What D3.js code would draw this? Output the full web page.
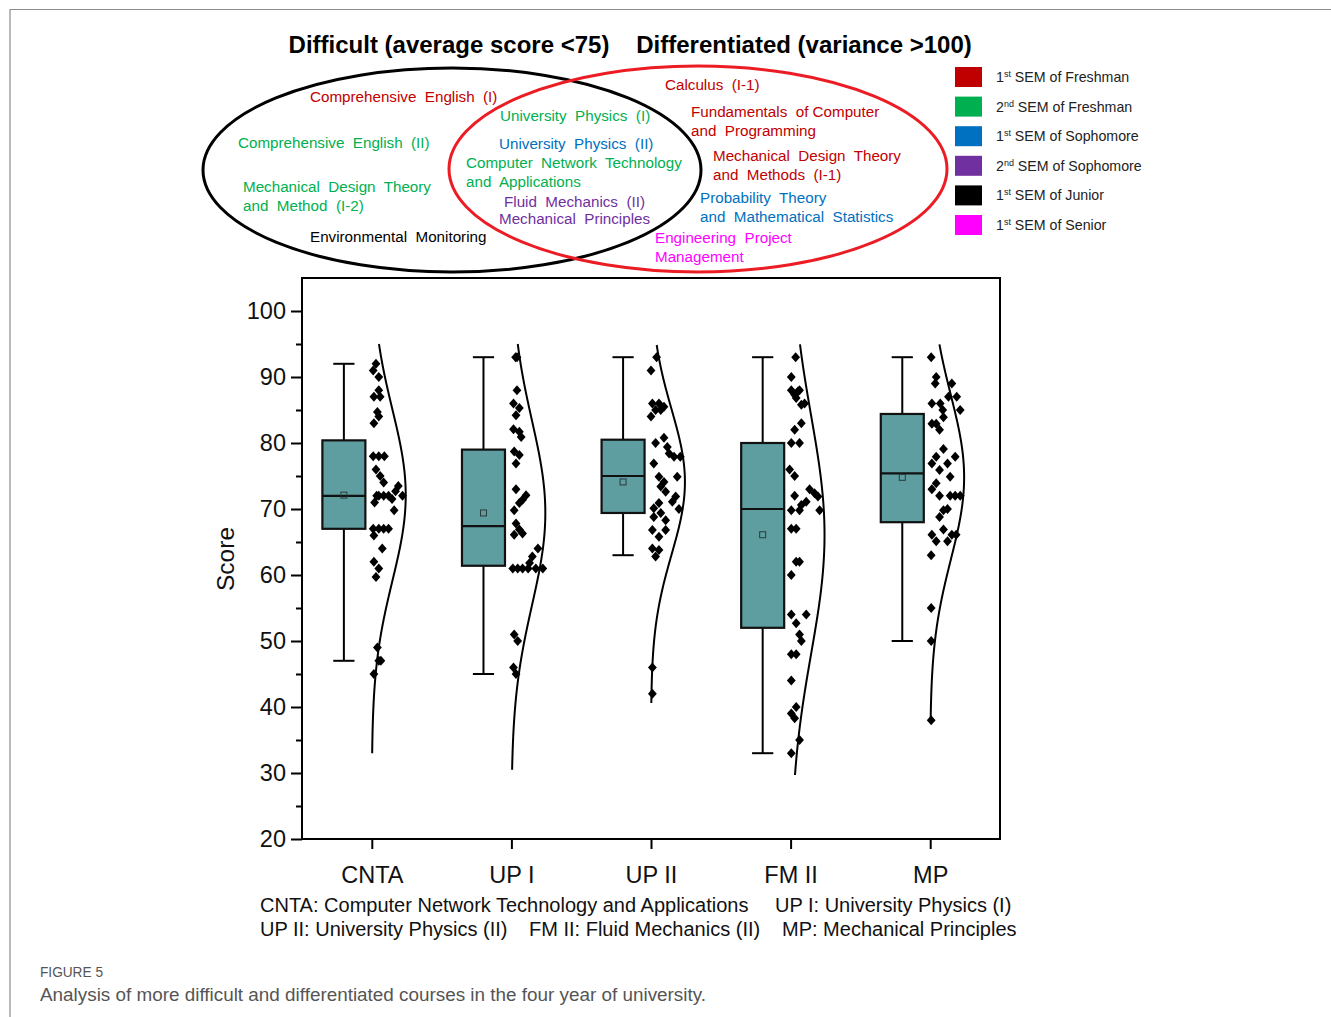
<!DOCTYPE html>
<html>
<head>
<meta charset="utf-8">
<script src="https://cdn.jsdelivr.net/npm/d3@7"></script>
<style>
  body { margin: 0; background: #fff; }
  svg text { font-family: "Liberation Sans", Arial, sans-serif; }
  .pre { white-space: pre; }
</style>
</head>
<body>
<svg id="chart" width="1331" height="1017"></svg>
<script>
// ---- Course statistics -------------------------------------------------
const courses      = ["CNTA", "UP I", "UP II", "FM II", "MP"];
const whiskerLow   = [47, 45, 63, 33, 50];
const quartile1    = [67, 61.4, 69.4, 52, 68];
const medians      = [72, 67.4, 75, 70, 75.4];
const quartile3    = [80.4, 79, 80.5, 80, 84.4];
const whiskerHigh  = [92, 93, 93, 93, 93];
const means        = [72.1, 69.4, 74.1, 66.1, 74.8];
// normal curve drawn beside each box: spread and drawn score range
const curveSD      = [13, 14, 11, 18, 12.5];
const curveLow     = [33, 30.5, 40.6, 29.7, 37.7];
const curveHigh    = [95, 95, 95, 95, 95];

// individual scores: [score, horizontal jitter in category units]
const cntaScores = [[92,0.03],[91,0.01],[90,0.05],[88,0.05],[87,0.015],[87,0.06],[84.7,0.04],[84,0.05],[83,0.015],
  [78,0.01],[78,0.05],[78,0.09],[76,0.03],[75,0.06],[74,0.085],[73.5,0.19],[72.7,0.17],[72,0.22],[72,0.05],[72,0.035],
  [72,0.085],[72,0.12],[71.5,0.145],[71,0.02],[69.8,0.16],[67,0.01],[67,0.05],[67,0.085],[67,0.12],[66,0.015],
  [64,0.075],[62,0.015],[61,0.05],[59.7,0.03],[49,0.04],[47,0.065],[47,0.05],[45,0.015]];
const up1Scores = [[93,0.03],[93,0.04],[88,0.04],[86,0.015],[85.3,0.057],[84.2,0.033],[82.1,0.015],[81.7,0.057],[80.9,0.07],
  [78.7,0.02],[78.2,0.057],[76.9,0.033],[73,0.033],[72.1,0.105],[71.4,0.08],[70.9,0.057],[69.8,0.02],[67.8,0.033],
  [66.9,0.057],[66.1,0.02],[66.3,0.08],[64,0.19],[62.8,0.15],[61.8,0.13],[61,0.01],[61,0.045],[61,0.08],[61,0.12],
  [61,0.175],[61,0.225],[51,0.02],[50,0.045],[46,0.015],[45,0.033]];
const up2Scores = [[93,0.04],[91,0.0],[86,0.01],[86,0.057],[85.5,0.093],[85,0.033],[84,0.0],[85,0.07],[80.8,0.093],
  [80,0.033],[79.4,0.117],[78.4,0.13],[77.9,0.165],[77.9,0.21],[76.9,0.02],[74.9,0.057],[74.9,0.188],[74.1,0.093],
  [73.4,0.07],[72.6,0.105],[71.9,0.177],[71.1,0.153],[70,0.2],[70.9,0.057],[70.1,0.02],[69.4,0.07],[68.8,0.02],
  [68.3,0.105],[66.8,0.01],[66.8,0.105],[65.8,0.057],[64,0.01],[63.8,0.057],[62.8,0.033],[46,0.01],[42,0.01]];
const fm2Scores = [[93,0.036],[90,0.005],[88,0.005],[87.8,0.052],[87.3,0.029],[88,0.064],[86.8,0.04],[86,0.1],[85.8,0.077],
  [83,0.077],[82,0.029],[80,0.005],[80,0.064],[76,-0.007],[75,0.029],[73,0.136],[72.4,0.172],[71.9,0.196],[72,0.029],
  [71.1,0.112],[70.6,0.077],[69.8,0.005],[69.8,0.064],[69.8,0.208],[67,0.005],[67,0.04],[62,0.04],[62,0.064],[60,0.005],
  [54,0.005],[54,0.112],[52.7,0.04],[51,0.064],[50,0.077],[48,0.005],[48,0.04],[44,0.005],[40,0.04],[39,0.005],
  [38.3,0.029],[35,0.064],[33,0.005]];
const mpScores = [[93,0.007],[90,0.043],[89,0.036],[89,0.155],[87,0.131],[87,0.19],[86,0.012],[86,0.072],[85,0.09],
  [85,0.215],[83.9,0.095],[82.9,0.012],[82.9,0.043],[82,0.067],[79.1,0.095],[77.9,0.043],[77.9,0.179],[76.9,0.012],
  [76.9,0.124],[75.9,0.067],[74.9,0.143],[73.9,0.043],[73,0.012],[72,0.067],[72,0.143],[72,0.179],[72,0.215],[70,0.124],
  [69.8,0.095],[68.8,0.067],[66.9,0.095],[66.1,0.012],[65.1,0.043],[65.1,0.124],[66.1,0.155],[66.1,0.186],[63,0.007],
  [55,0.007],[50,0.007],[38,0.007]];
const scoreSets = [cntaScores, up1Scores, up2Scores, fm2Scores, mpScores];

const yTicks = [20, 30, 40, 50, 60, 70, 80, 90, 100];
const yMinorTicks = [25, 35, 45, 55, 65, 75, 85, 95];

// ---- Semester legend ---------------------------------------------------
const semesterNum    = ["1", "2", "1", "2", "1", "1"];
const semesterSup    = ["st", "nd", "st", "nd", "st", "st"];
const semesterRest   = [" SEM of Freshman", " SEM of Freshman", " SEM of Sophomore", " SEM of Sophomore", " SEM of Junior", " SEM of Senior"];
const semesterColors = ["#c00000", "#00b050", "#0070c0", "#7030a0", "#000000", "#ff00ff"];

// ---- Venn diagram course names (semester index -> colour) --------------
const vennLabels = [
  {t: "Comprehensive  English  (I)", s: 0},
  {t: "University  Physics  (I)", s: 1},
  {t: "Comprehensive  English  (II)", s: 1},
  {t: "University  Physics  (II)", s: 2},
  {t: "Computer  Network  Technology", s: 1},
  {t: "and  Applications", s: 1},
  {t: "Mechanical  Design  Theory", s: 1},
  {t: "and  Method  (I-2)", s: 1},
  {t: "Fluid  Mechanics  (II)", s: 3},
  {t: "Mechanical  Principles", s: 3},
  {t: "Environmental  Monitoring", s: 4},
  {t: "Engineering  Project", s: 5},
  {t: "Management", s: 5},
  {t: "Calculus  (I-1)", s: 0},
  {t: "Fundamentals  of Computer", s: 0},
  {t: "and  Programming", s: 0},
  {t: "Mechanical  Design  Theory", s: 0},
  {t: "and  Methods  (I-1)", s: 0},
  {t: "Probability  Theory", s: 2},
  {t: "and  Mathematical  Statistics", s: 2}
];
// where each course name sits inside the diagram
const vennLayout = [
  [310, 97], [500, 116], [238, 143], [499, 144], [466, 163], [466, 182], [243, 187], [243, 206],
  [504, 202], [499, 219], [310, 237], [655, 238], [655, 257], [665, 85], [691, 112], [691, 131],
  [713, 156], [713, 175], [700, 198], [700, 217]
];

const svg = d3.select("#chart");

// page frame of the figure panel
svg.append("path").attr("d", "M10,1017 V9.5 H1331").attr("fill", "none")
  .attr("stroke", "#8c8c8c").attr("stroke-width", 1.2);

// ---- Titles --------------------------------------------------------------
svg.append("text").attr("x", 449).attr("y", 53).attr("text-anchor", "middle")
  .attr("font-size", 24).attr("font-weight", "bold").text("Difficult (average score <75)");
svg.append("text").attr("x", 804).attr("y", 53).attr("text-anchor", "middle")
  .attr("font-size", 24).attr("font-weight", "bold").text("Differentiated (variance >100)");

// ---- Venn ellipses -------------------------------------------------------
svg.append("ellipse").attr("cx", 452).attr("cy", 170).attr("rx", 249).attr("ry", 102)
  .attr("fill", "none").attr("stroke", "#000").attr("stroke-width", 3);
svg.append("ellipse").attr("cx", 698).attr("cy", 169).attr("rx", 249).attr("ry", 103)
  .attr("fill", "none").attr("stroke", "#ec1c24").attr("stroke-width", 3);

svg.append("g").selectAll("text").data(vennLabels).join("text")
  .attr("class", "pre")
  .attr("x", (d, i) => vennLayout[i][0])
  .attr("y", (d, i) => vennLayout[i][1])
  .attr("dy", "0.35em")
  .attr("font-size", 15.2)
  .attr("fill", d => semesterColors[d.s])
  .text(d => d.t);

// ---- Semester legend ---------------------------------------------------
const legendY = d3.scalePoint().domain(d3.range(6)).range([77, 225]);
const lg = svg.append("g");
lg.selectAll("rect").data(semesterColors).join("rect")
  .attr("x", 955).attr("y", (d, i) => legendY(i) - 10)
  .attr("width", 27).attr("height", 20).attr("fill", d => d);
const lt = lg.selectAll("text").data(semesterNum).join("text")
  .attr("x", 996).attr("y", (d, i) => legendY(i) + 5)
  .attr("font-size", 14.2).attr("fill", "#222");
lt.append("tspan").text(d => d);
lt.append("tspan").attr("font-size", 9).attr("dy", -5).text((d, i) => semesterSup[i]);
lt.append("tspan").attr("dy", 5).attr("class", "pre").text((d, i) => semesterRest[i]);

// ---- Box chart -----------------------------------------------------------
const x = d3.scaleLinear().domain([0.5, 5.5]).range([302, 1000]);
const y = d3.scaleLinear().domain([20, 105]).range([839, 278]);
const boxShift = -0.2, boxHalf = 0.154, capHalf = 0.076, curveAmp = 0.243;

const plot = svg.append("g");

// whiskers and boxes
courses.forEach((c, i) => {
  const cx = x(i + 1 + boxShift);
  const g = plot.append("g");
  g.append("line").attr("x1", cx).attr("x2", cx).attr("y1", y(whiskerHigh[i])).attr("y2", y(whiskerLow[i]))
    .attr("stroke", "#000").attr("stroke-width", 2);
  [whiskerHigh[i], whiskerLow[i]].forEach(v => {
    g.append("line").attr("x1", x(i + 1 + boxShift - capHalf)).attr("x2", x(i + 1 + boxShift + capHalf))
      .attr("y1", y(v)).attr("y2", y(v)).attr("stroke", "#000").attr("stroke-width", 2);
  });
  g.append("rect").attr("x", x(i + 1 + boxShift - boxHalf)).attr("y", y(quartile3[i]))
    .attr("width", x(i + 1 + boxShift + boxHalf) - x(i + 1 + boxShift - boxHalf))
    .attr("height", y(quartile1[i]) - y(quartile3[i]))
    .attr("fill", "#5f9ea0").attr("stroke", "#111").attr("stroke-width", 2.2);
  g.append("line").attr("x1", x(i + 1 + boxShift - boxHalf)).attr("x2", x(i + 1 + boxShift + boxHalf))
    .attr("y1", y(medians[i])).attr("y2", y(medians[i])).attr("stroke", "#111").attr("stroke-width", 2.2);
  g.append("rect").attr("x", cx - 3).attr("y", y(means[i]) - 3).attr("width", 6).attr("height", 6)
    .attr("fill", "none").attr("stroke", "#2a3a3a").attr("stroke-width", 1);
});

// normal distribution curves
courses.forEach((c, i) => {
  const vals = d3.range(curveLow[i], curveHigh[i] + 0.001, 0.25);
  const line = d3.line()
    .x(v => x(i + 1 + curveAmp * Math.exp(-0.5 * Math.pow((v - means[i]) / curveSD[i], 2))))
    .y(v => y(v))
    .curve(d3.curveBasis);
  plot.append("path").datum(vals).attr("d", line)
    .attr("fill", "none").attr("stroke", "#000").attr("stroke-width", 2);
});

// individual scores as diamonds
const diamond = "M0,-5L4.4,0L0,5L-4.4,0Z";
scoreSets.forEach((set, i) => {
  plot.append("g").selectAll("path").data(set).join("path")
    .attr("d", diamond)
    .attr("transform", d => `translate(${x(i + 1 + d[1])},${y(d[0])})`)
    .attr("fill", "#000");
});

// frame
svg.append("rect").attr("x", 302).attr("y", 278).attr("width", 698).attr("height", 561)
  .attr("fill", "none").attr("stroke", "#000").attr("stroke-width", 2);

// axes
const yAxis = svg.append("g").attr("transform", "translate(302,0)")
  .call(d3.axisLeft(y).tickValues(yTicks).tickSize(11).tickPadding(5));
const yMinor = svg.append("g").attr("transform", "translate(302,0)")
  .call(d3.axisLeft(y).tickValues(yMinorTicks).tickSize(6).tickFormat(""));
const xAxis = svg.append("g").attr("transform", "translate(0,839)")
  .call(d3.axisBottom(x).tickValues([1, 2, 3, 4, 5]).tickSize(10).tickPadding(17)
    .tickFormat(d => courses[d - 1]));
[yAxis, yMinor, xAxis].forEach(a => {
  a.select(".domain").remove();
  a.selectAll(".tick line").attr("stroke", "#000").attr("stroke-width", 2);
  a.selectAll("text").attr("font-size", 23.5).attr("fill", "#111")
    .attr("font-family", "'Liberation Sans', Arial, sans-serif");
});

svg.append("text").attr("transform", "translate(234,559) rotate(-90)")
  .attr("text-anchor", "middle").attr("font-size", 24.5).attr("fill", "#111").text("Score");

// abbreviation key
const keyTexts = [
  ["CNTA: Computer Network Technology and Applications", 260, 912],
  ["UP I: University Physics (I)", 775, 912],
  ["UP II: University Physics (II)", 260, 936],
  ["FM II: Fluid Mechanics (II)", 529, 936],
  ["MP: Mechanical Principles", 782, 936]
];
svg.append("g").selectAll("text").data(keyTexts).join("text")
  .attr("x", d => d[1]).attr("y", d => d[2]).attr("font-size", 20).attr("fill", "#111")
  .text(d => d[0]);

// figure caption
svg.append("text").attr("x", 40).attr("y", 977).attr("font-size", 14)
  .attr("font-family", "'Open Sans', 'Noto Sans', sans-serif").attr("fill", "#555")
  .attr("textLength", 63).attr("lengthAdjust", "spacingAndGlyphs").text("FIGURE 5");
svg.append("text").attr("x", 40).attr("y", 1001).attr("font-size", 17.5)
  .attr("font-family", "'Open Sans', 'Noto Sans', sans-serif").attr("fill", "#555")
  .attr("textLength", 666).attr("lengthAdjust", "spacingAndGlyphs")
  .text("Analysis of more difficult and differentiated courses in the four year of university.");
</script>
</body>
</html>
